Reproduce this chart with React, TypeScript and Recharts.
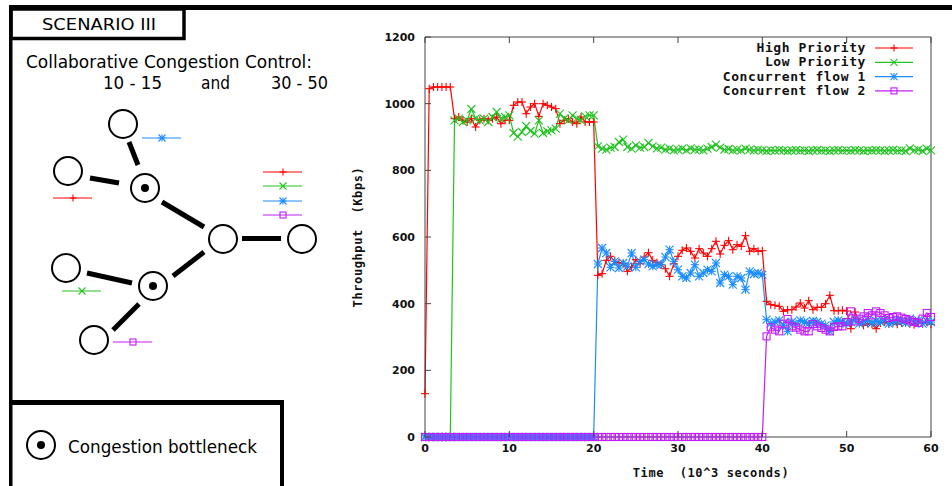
import React from 'react';
import { LineChart, Line, XAxis, YAxis, Legend } from 'recharts';

// time in 10^3 seconds
const time = [
  0, 0.5, 1, 1.5, 2, 2.5, 3, 3.5, 4, 4.5,
  5, 5.5, 6, 6.5, 7, 7.5, 8, 8.5, 9, 9.5,
  10, 10.5, 11, 11.5, 12, 12.5, 13, 13.5, 14, 14.5,
  15, 15.5, 16, 16.5, 17, 17.5, 18, 18.5, 19, 19.5,
  20, 20.5, 21, 21.5, 22, 22.5, 23, 23.5, 24, 24.5,
  25, 25.5, 26, 26.5, 27, 27.5, 28, 28.5, 29, 29.5,
  30, 30.5, 31, 31.5, 32, 32.5, 33, 33.5, 34, 34.5,
  35, 35.5, 36, 36.5, 37, 37.5, 38, 38.5, 39, 39.5,
  40, 40.5, 41, 41.5, 42, 42.5, 43, 43.5, 44, 44.5,
  45, 45.5, 46, 46.5, 47, 47.5, 48, 48.5, 49, 49.5,
  50, 50.5, 51, 51.5, 52, 52.5, 53, 53.5, 54, 54.5,
  55, 55.5, 56, 56.5, 57, 57.5, 58, 58.5, 59, 59.5,
  60,
];

const highPriority = [
  130, 1045, 1050, 1050, 1050, 1050, 1050, 955, 960, 950,
  945, 955, 930, 950, 955, 950, 955, 960, 940, 950,
  950, 995, 1005, 1005, 970, 990, 1000, 962, 1000, 995,
  990, 985, 940, 950, 955, 945, 940, 960, 945, 945,
  945, 485, 490, 530, 542, 527, 523, 520, 497, 510,
  532, 520, 540, 553, 530, 523, 517, 505, 482, 520,
  542, 560, 567, 557, 537, 565, 552, 542, 565, 587,
  549, 575, 589, 562, 577, 572, 604, 557, 565, 557,
  559, 407, 397, 395, 392, 377, 382, 382, 390, 402,
  387, 409, 382, 389, 389, 400, 425, 379, 379, 380,
  378, 325, 375, 345, 335, 340, 338, 325, 342, 345,
  340, 343, 338, 342, 345, 340, 337, 342, 340, 344,
  338,
];

const lowPriority = [
  0, 0, 0, 0, 0, 0, 0, 950, 955, 945,
  950, 984, 955, 950, 955, 945, 960, 975, 955, 960,
  965, 912, 901, 915, 933, 918, 910, 950, 912, 917,
  920, 925, 970, 955, 950, 965, 955, 950, 962, 965,
  965, 872, 865, 862, 868, 870, 885, 892, 870, 865,
  875, 868, 870, 882, 872, 866, 868, 862, 865, 860,
  862, 865, 860, 866, 862, 862, 860, 865, 870, 877,
  868, 862, 864, 860, 862, 860, 865, 862, 860, 862,
  860, 858, 860, 859, 861, 860, 858, 860, 861, 859,
  860, 858, 860, 861, 859, 860, 858, 860, 861, 859,
  860, 859, 861, 860, 858, 860, 859, 861, 860, 858,
  860, 861, 859, 860, 858, 866, 860, 862, 858, 865,
  860,
];

const concurrentFlow1 = [
  0, 0, 0, 0, 0, 0, 0, 0, 0, 0,
  0, 0, 0, 0, 0, 0, 0, 0, 0, 0,
  0, 0, 0, 0, 0, 0, 0, 0, 0, 0,
  0, 0, 0, 0, 0, 0, 0, 0, 0, 0,
  0, 519, 567, 552, 509, 527, 507, 522, 512, 552,
  509, 527, 532, 519, 512, 517, 517, 540, 562, 527,
  502, 482, 477, 492, 517, 482, 492, 502, 497, 522,
  462, 487, 482, 457, 482, 477, 442, 497, 489, 492,
  487, 352, 340, 345, 350, 335, 317, 345, 340, 350,
  345, 340, 348, 345, 340, 335, 317, 345, 350, 345,
  340, 345, 352, 340, 345, 350, 342, 348, 345, 352,
  340, 345, 350, 348, 342, 355, 345, 350, 340, 348,
  345,
];

const concurrentFlow2 = [
  0, 0, 0, 0, 0, 0, 0, 0, 0, 0,
  0, 0, 0, 0, 0, 0, 0, 0, 0, 0,
  0, 0, 0, 0, 0, 0, 0, 0, 0, 0,
  0, 0, 0, 0, 0, 0, 0, 0, 0, 0,
  0, 0, 0, 0, 0, 0, 0, 0, 0, 0,
  0, 0, 0, 0, 0, 0, 0, 0, 0, 0,
  0, 0, 0, 0, 0, 0, 0, 0, 0, 0,
  0, 0, 0, 0, 0, 0, 0, 0, 0, 0,
  0, 302, 329, 322, 317, 340, 354, 332, 328, 322,
  317, 317, 339, 332, 327, 322, 317, 330, 332, 332,
  345, 377, 347, 355, 362, 372, 365, 377, 372, 365,
  357, 360, 362, 358, 354, 350, 345, 342, 355, 372,
  360,
];

const xTicks = [0, 10, 20, 30, 40, 50, 60];
const yTicks = [0, 200, 400, 600, 800, 1000, 1200];

const RED = '#ff0000';
const GREEN = '#22c322';
const BLUE = '#1a8cff';
const PURPLE = '#c21cff';

type MarkerKind = 'plus' | 'cross' | 'star' | 'square';

const series: { key: string; name: string; color: string; marker: MarkerKind }[] = [
  { key: 'high', name: 'High Priority', color: RED, marker: 'plus' },
  { key: 'low', name: 'Low Priority', color: GREEN, marker: 'cross' },
  { key: 'flow1', name: 'Concurrent flow 1', color: BLUE, marker: 'star' },
  { key: 'flow2', name: 'Concurrent flow 2', color: PURPLE, marker: 'square' },
];

const data = time.map((t, i) => ({
  t,
  high: highPriority[i],
  low: lowPriority[i],
  flow1: concurrentFlow1[i],
  flow2: concurrentFlow2[i],
}));

const Marker = ({ kind, cx, cy, color, s = 3.5 }: { kind: MarkerKind; cx: number; cy: number; color: string; s?: number }) => {
  if (cx == null || cy == null) return null;
  const plus = (
    <>
      <line x1={cx - s} x2={cx + s} y1={cy} y2={cy} />
      <line x1={cx} x2={cx} y1={cy - s} y2={cy + s} />
    </>
  );
  const cross = (
    <>
      <line x1={cx - s} x2={cx + s} y1={cy - s} y2={cy + s} />
      <line x1={cx - s} x2={cx + s} y1={cy + s} y2={cy - s} />
    </>
  );
  return (
    <g stroke={color} strokeWidth={1.1} fill="none">
      {kind === 'plus' && plus}
      {kind === 'cross' && cross}
      {kind === 'star' && <>{plus}{cross}</>}
      {kind === 'square' && <rect x={cx - s + 0.5} y={cy - s + 0.5} width={2 * s - 1} height={2 * s - 1} />}
    </g>
  );
};

const renderDot = (kind: MarkerKind, color: string) => (p: any) => (
  <Marker key={`${kind}-${p.index}`} kind={kind} cx={p.cx} cy={p.cy} color={color} s={4} />
);

const AXIS = '#444';
const tickFont = { fontFamily: 'DejaVu Sans', fontSize: 11, fontWeight: 'bold' as const, fill: '#111' };
const monoFont = { fontFamily: 'DejaVu Sans Mono', fontSize: 13, fontWeight: 'bold' as const, fill: '#111', letterSpacing: 0.6 };

const BottomTick = (p: any) => (
  <g>
    <line x1={p.x} x2={p.x} y1={p.y} y2={p.y - 6} stroke={AXIS} />
    <text x={p.x} y={p.y + 15} textAnchor="middle" {...tickFont}>{p.payload.value}</text>
  </g>
);
const TopTick = (p: any) => <line x1={p.x} x2={p.x} y1={p.y} y2={p.y + 6} stroke={AXIS} />;
const LeftTick = (p: any) => (
  <g>
    <line x1={p.x} x2={p.x + 6} y1={p.y} y2={p.y} stroke={AXIS} />
    <text x={p.x - 10} y={p.y + 4} textAnchor="end" {...tickFont}>{p.payload.value}</text>
  </g>
);
const RightTick = (p: any) => <line x1={p.x} x2={p.x - 6} y1={p.y} y2={p.y} stroke={AXIS} />;

const LegendBox = () => (
  <svg width={230} height={64} style={{ display: 'block' }}>
    {series.map((s, i) => {
      const y = 8 + i * 14.3;
      return (
        <g key={s.key}>
          <text x={166} y={y + 4} textAnchor="end" {...monoFont}>{s.name}</text>
          <line x1={175} x2={213} y1={y} y2={y} stroke={s.color} strokeWidth={1.2} />
          <Marker kind={s.marker} cx={194} cy={y} color={s.color} />
        </g>
      );
    })}
  </svg>
);

const Circle = ({ x, y, bottleneck = false }: { x: number; y: number; bottleneck?: boolean }) => (
  <g>
    <circle cx={x} cy={y} r={14} fill="white" stroke="black" strokeWidth={2} />
    {bottleneck && <circle cx={x} cy={y} r={4} fill="black" />}
  </g>
);

const Key = ({ x, y, color, kind }: { x: number; y: number; color: string; kind: MarkerKind }) => (
  <g>
    <line x1={x} x2={x + 39} y1={y} y2={y} stroke={color} />
    <Marker kind={kind} cx={x + 20} cy={y} color={color} />
  </g>
);

const Scenario = () => (
  <svg width={952} height={486} style={{ position: 'absolute', left: 0, top: 0, pointerEvents: 'none' }}>
    <rect x={9} y={5} width={943} height={5} fill="black" />
    <rect x={9} y={5} width={3.5} height={481} fill="black" />
    <rect x={11} y={9} width={173} height={29.5} fill="none" stroke="black" strokeWidth={3.5} />
    <text x={99} y={30} textAnchor="middle" fontFamily="DejaVu Sans" fontSize={16.5} textLength={114} lengthAdjust="spacingAndGlyphs">SCENARIO  III</text>

    <g fontFamily="DejaVu Sans" fontSize={17} fill="black">
      <text x={26} y={67.5} textLength={286} lengthAdjust="spacingAndGlyphs">Collaborative Congestion Control:</text>
      <text x={103} y={89} textLength={59} lengthAdjust="spacingAndGlyphs">10 - 15</text>
      <text x={201} y={89} textLength={29} lengthAdjust="spacingAndGlyphs">and</text>
      <text x={271} y={89} textLength={57} lengthAdjust="spacingAndGlyphs">30 - 50</text>
    </g>

    <g stroke="black" strokeWidth={5}>
      <line x1={129} y1={142} x2={138} y2={165} />
      <line x1={90} y1={178} x2={119} y2={183} />
      <line x1={162} y1={202} x2={204} y2={227} />
      <line x1={242} y1={238.5} x2={281} y2={238.5} />
      <line x1={87} y1={273} x2={132} y2={283} />
      <line x1={173} y1={276} x2={204} y2={252} />
      <line x1={139} y1={304} x2={113} y2={330} />
    </g>
    <Circle x={123} y={124} />
    <Circle x={68} y={171} />
    <Circle x={145} y={188} bottleneck />
    <Circle x={223} y={239} />
    <Circle x={302} y={239} />
    <Circle x={66} y={268} />
    <Circle x={153} y={286} bottleneck />
    <Circle x={94} y={340} />

    <Key x={142} y={138} color={BLUE} kind="star" />
    <Key x={53} y={198} color={RED} kind="plus" />
    <Key x={62} y={291} color={GREEN} kind="cross" />
    <Key x={113} y={342} color={PURPLE} kind="square" />
    <Key x={263} y={172} color={RED} kind="plus" />
    <Key x={263} y={186} color={GREEN} kind="cross" />
    <Key x={263} y={201} color={BLUE} kind="star" />
    <Key x={263} y={215} color={PURPLE} kind="square" />

    <rect x={9} y={400} width={275} height={5} fill="black" />
    <rect x={280} y={400} width={4} height={86} fill="black" />
    <circle cx={41} cy={445} r={14} fill="white" stroke="black" strokeWidth={2} />
    <circle cx={41} cy={445} r={4} fill="black" />
    <text x={68} y={453} fontFamily="DejaVu Sans" fontSize={18} textLength={189} lengthAdjust="spacingAndGlyphs">Congestion bottleneck</text>
  </svg>
);

export default function App() {
  return (
    <div style={{ position: 'absolute', left: 0, top: 0, width: 952, height: 486, background: 'white', overflow: 'hidden' }}>
      <LineChart width={952} height={486} data={data} margin={{ top: 36, right: 20, bottom: 19, left: 365 }}>
        <XAxis
          dataKey="t"
          type="number"
          domain={[0, 60]}
          ticks={xTicks}
          height={30}
          tickSize={0}
          tickMargin={0}
          tickLine={false}
          stroke={AXIS}
          tick={<BottomTick />}
          label={{
            content: ({ viewBox }: any) => (
              <text x={viewBox.x + viewBox.width / 2 + 33} y={viewBox.y + 40} textAnchor="middle" {...monoFont} fontSize={12} xmlSpace="preserve">
                Time  (10^3 seconds)
              </text>
            ),
          }}
        />
        <XAxis xAxisId="top" orientation="top" dataKey="t" type="number" domain={[0, 60]} ticks={xTicks} height={1} tickSize={0} tickMargin={0} tickLine={false} stroke={AXIS} tick={<TopTick />} />
        <YAxis
          type="number"
          domain={[0, 1200]}
          ticks={yTicks}
          width={60}
          tickSize={0}
          tickMargin={0}
          tickLine={false}
          stroke={AXIS}
          tick={<LeftTick />}
          label={{
            content: ({ viewBox }: any) => {
              const cx = viewBox.x - 7;
              const cy = viewBox.y + viewBox.height / 2;
              return (
                <text x={cx} y={cy} transform={`rotate(-90 ${cx} ${cy})`} textAnchor="middle" dominantBaseline="middle" {...monoFont} fontSize={12} xmlSpace="preserve">
                  Throughput  (Kbps)
                </text>
              );
            },
          }}
        />
        <YAxis yAxisId="right" orientation="right" type="number" domain={[0, 1200]} ticks={yTicks} width={1} tickSize={0} tickMargin={0} tickLine={false} stroke={AXIS} tick={<RightTick />} />
        <Legend
          layout="horizontal"
          verticalAlign="middle"
          align="center"
          wrapperStyle={{ position: 'absolute', left: 700, top: 40, width: 230, height: 64 }}
          content={() => <LegendBox />}
        />
        {series.map((s) => (
          <Line
            key={s.key}
            dataKey={s.key}
            name={s.name}
            type="linear"
            stroke={s.color}
            strokeWidth={1.2}
            dot={renderDot(s.marker, s.color)}
            activeDot={false}
            isAnimationActive={false}
          />
        ))}
      </LineChart>
      <Scenario />
    </div>
  );
}
